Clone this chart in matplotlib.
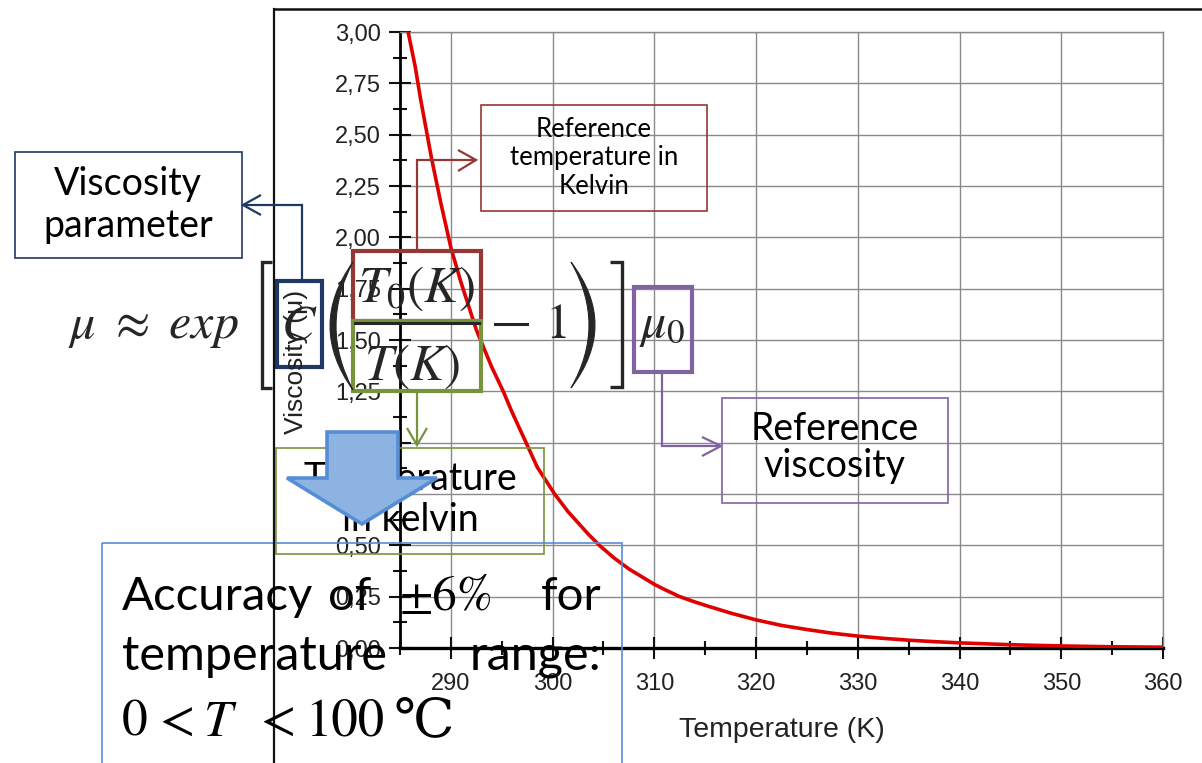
import matplotlib
matplotlib.use('Agg')
import matplotlib.pyplot as plt
from matplotlib.patches import Rectangle, Polygon, PathPatch
from matplotlib.path import Path
from matplotlib.ticker import MultipleLocator, FixedLocator

plt.rcParams['mathtext.fontset'] = 'stix'

# ---------------- data ----------------
temperature_K = [285.8, 286.5, 287.0, 288.1, 289.0, 290.0, 291.0, 292.5, 294.0,
                 295.15, 296.0, 297.3, 298.5, 300.2, 301.5, 302.5, 303.5, 304.6,
                 306.0, 307.5, 309.0, 310.0, 311.0, 312.5, 314.0, 315.0, 317.5,
                 320.0, 322.5, 325.0, 327.5, 330.0, 332.5, 335.0, 337.5, 340.0,
                 345.0, 350.0, 355.0, 360.0]
viscosity = [3.00, 2.83, 2.68, 2.385, 2.17, 1.95, 1.78, 1.55, 1.37,
             1.25, 1.15, 1.01, 0.88, 0.75, 0.665, 0.61, 0.555, 0.50,
             0.44, 0.385, 0.34, 0.31, 0.285, 0.25, 0.224, 0.208, 0.17,
             0.137, 0.11, 0.09, 0.072, 0.058, 0.047, 0.038, 0.031, 0.025,
             0.016, 0.010, 0.006, 0.004]

x_ticks = [290, 300, 310, 320, 330, 340, 350, 360]
x_tick_labels = ['290', '300', '310', '320', '330', '340', '350', '360']
y_ticks = [0.0, 0.25, 0.5, 0.75, 1.0, 1.25, 1.5, 1.75, 2.0, 2.25, 2.5, 2.75, 3.0]
y_tick_labels = ['0,00', '0,25', '0,50', '0,75', '1,00', '1,25', '1,50', '1,75',
                 '2,00', '2,25', '2,50', '2,75', '3,00']

W, H = 1202, 763
fig = plt.figure(figsize=(W / 100, H / 100), dpi=100)
fig.patch.set_facecolor('white')

# ---------------- chart ----------------
L, R, T, B = 400, 1163, 32, 648
ax = fig.add_axes([L / W, 1 - B / H, (R - L) / W, (B - T) / H])
ax.plot(temperature_K, viscosity, color='#e00000', lw=2.6, zorder=3,
        solid_capstyle='butt', solid_joinstyle='round')
ax.set_xlim(285, 360)
ax.set_ylim(0, 3.0)
ax.xaxis.set_major_locator(FixedLocator(x_ticks))
ax.set_xticklabels(x_tick_labels)
ax.xaxis.set_minor_locator(MultipleLocator(5))
ax.yaxis.set_major_locator(FixedLocator(y_ticks))
ax.set_yticklabels(y_tick_labels)
ax.yaxis.set_minor_locator(MultipleLocator(0.125))
ax.grid(True, which='major', color='#8a8a8a', lw=1.0)
ax.set_axisbelow(True)
for s in ['top', 'right']:
    ax.spines[s].set_color('#8a8a8a')
    ax.spines[s].set_linewidth(1.0)
ax.spines['left'].set_linewidth(2.0)
ax.spines['bottom'].set_linewidth(2.4)
ax.tick_params(which='major', direction='inout', length=16, width=1.5, colors='#111111',
               labelsize=17, labelcolor='#222222')
ax.tick_params(which='minor', direction='inout', length=9.5, width=1.5, colors='#111111')
ax.tick_params(axis='x', which='major', pad=10)
ax.tick_params(axis='y', which='major', pad=5.5)
for lab in ax.get_xticklabels() + ax.get_yticklabels():
    lab.set_fontfamily('Liberation Sans')

# ---------------- overlay (pixel coordinates) ----------------
ov = fig.add_axes([0, 0, 1, 1], zorder=10)
ov.set_xlim(0, W)
ov.set_ylim(H, 0)
ov.axis('off')
ov.patch.set_alpha(0)

ov.text(782, 737, 'Temperature (K)', ha='center', va='baseline', fontsize=20.5,
        family='Liberation Sans', color='#222222')
ov.text(296, 362, 'Viscosity (μ)', ha='center', va='center', rotation=90, fontsize=19,
        family='Liberation Sans', color='#222222')

# picture frame
ov.plot([274, 274], [9, H + 5], color='#111111', lw=1.6)
ov.plot([274, W + 5], [9, 9], color='#111111', lw=1.8)

NAVY = '#1f3864'
DRED = '#953735'
GREEN = '#77933c'
PURPLE = '#8064a2'
BLUE = '#558ed5'
BLUEFILL = '#8db3e2'
INK = '#262626'


def rect(x0, y0, x1, y1, color, lw):
    ov.add_patch(Rectangle((x0, y0), x1 - x0, y1 - y0, fill=False, ec=color, lw=lw))


def poly(pts, color, lw):
    xs, ys = zip(*pts)
    ov.plot(xs, ys, color=color, lw=lw, solid_joinstyle='miter', solid_capstyle='butt')


FONT = 'Lato'
BFS = 27

# Viscosity parameter
rect(15, 152, 242, 258, NAVY, 1.2)
ov.text(128, 195, 'Viscosity', ha='center', va='baseline', fontsize=BFS, family=FONT)
ov.text(128, 237, 'parameter', ha='center', va='baseline', fontsize=BFS, family=FONT)
rect(277, 281, 322, 367, NAVY, 3)
poly([(302, 281), (302, 205), (243, 205)], NAVY, 1.6)
poly([(261, 195), (243, 205), (261, 215)], NAVY, 1.6)

# Reference temperature
rect(481, 105, 707, 211, DRED, 1.2)
ov.text(594, 137, 'Reference', ha='center', va='baseline', fontsize=18.5, family=FONT)
ov.text(594, 165, 'temperature in', ha='center', va='baseline', fontsize=18.5, family=FONT)
ov.text(594, 194, 'Kelvin', ha='center', va='baseline', fontsize=18.5, family=FONT)
rect(353, 251, 481, 321, DRED, 3)
poly([(417, 251), (417, 160), (476, 160)], DRED, 1.6)
poly([(458, 150), (476, 160), (458, 171)], DRED, 1.6)

# Temperature in kelvin
rect(353, 321, 481, 391, GREEN, 3)
rect(276, 448, 544, 554, GREEN, 1.2)
poly([(417, 391), (417, 445)], GREEN, 1.6)
poly([(407, 428), (417, 445), (427, 428)], GREEN, 1.6)
ov.text(410, 490, 'Temperature', ha='center', va='baseline', fontsize=BFS, family=FONT)
ov.text(410, 531, 'in kelvin', ha='center', va='baseline', fontsize=BFS, family=FONT)

# Reference viscosity
rect(634, 287, 692, 372, PURPLE, 3)
rect(722, 398, 948, 503, PURPLE, 1.2)
poly([(662, 372), (662, 446), (721, 446)], PURPLE, 1.6)
poly([(702, 437), (721, 446), (702, 456)], PURPLE, 1.6)
ov.text(835, 440, 'Reference', ha='center', va='baseline', fontsize=BFS, family=FONT)
ov.text(835, 477, 'viscosity', ha='center', va='baseline', fontsize=BFS, family=FONT)

# formula
FS = 36
ov.text(68, 338, r'$\mu\ \approx\ exp$', ha='left', va='baseline', fontsize=FS, color=INK)
ov.text(299, 340, r'$C$', ha='center', va='baseline', fontsize=FS, color=INK)
ov.text(416, 302, r'$T_0(K)$', ha='center', va='baseline', fontsize=FS + 1, color=INK)
ov.text(412, 380, r'$T(K)$', ha='center', va='baseline', fontsize=FS + 1, color=INK)
ov.plot([355, 479], [323, 323], color=INK, lw=2.2)
ov.plot([495, 527], [324, 324], color=INK, lw=2.2)
ov.text(556, 338, r'$1$', ha='center', va='baseline', fontsize=FS, color=INK)
ov.text(639, 337, r'$\mu_0$', ha='left', va='baseline', fontsize=FS, color=INK)
# brackets
poly([(272, 262), (262, 262), (262, 388), (272, 388)], INK, 2.4)
poly([(610, 262), (622, 262), (622, 387), (610, 387)], INK, 2.4)


def paren(x_end, x_out, x_in, y0, y1):
    ym = (y0 + y1) / 2
    c_out = 2 * x_out - x_end
    c_in = 2 * x_in - x_end
    verts = [(x_end, y0), (c_out, ym), (x_end, y1), (c_in, ym), (x_end, y0), (x_end, y0)]
    codes = [Path.MOVETO, Path.CURVE3, Path.CURVE3, Path.CURVE3, Path.CURVE3, Path.CLOSEPOLY]
    ov.add_patch(PathPatch(Path(verts, codes), fc=INK, ec=INK, lw=0.8))


paren(353, 330, 336, 262, 390)
paren(571, 595, 589, 262, 388)

# big blue arrow
ov.add_patch(Polygon([(327, 432), (398, 432), (398, 478), (437, 478), (362, 524),
                      (287, 478), (327, 478)], closed=True, fc=BLUEFILL, ec=BLUE,
                     lw=2.6, joinstyle='miter', zorder=5))

# accuracy box
rect(102, 543, 622, H + 10, BLUE, 1.2)
AFS = 34
ov.text(122, 610, 'Accuracy', ha='left', va='baseline', fontsize=AFS, family=FONT)
ov.text(328, 610, 'of', ha='left', va='baseline', fontsize=AFS, family=FONT)
ov.text(400, 610, '±6%', ha='left', va='baseline', fontsize=AFS + 1, family='STIXGeneral')
ov.text(601, 610, 'for', ha='right', va='baseline', fontsize=AFS, family=FONT)
ov.text(122, 670, 'temperature', ha='left', va='baseline', fontsize=AFS + 1, family=FONT)
ov.text(601, 670, 'range:', ha='right', va='baseline', fontsize=AFS + 1, family=FONT)
ov.text(122, 736, '0', ha='left', va='baseline', fontsize=37, family='STIXGeneral')
ov.text(177, 736, '<', ha='center', va='baseline', fontsize=37, family='STIXGeneral')
ov.text(204, 736, 'T', ha='left', va='baseline', fontsize=37, family='STIXGeneral',
        style='italic')
ov.text(278, 736, '<', ha='center', va='baseline', fontsize=37, family='STIXGeneral')
ov.text(305, 736, '100', ha='left', va='baseline', fontsize=38, family='STIXGeneral')
ov.text(393, 736, '℃', ha='left', va='baseline', fontsize=39, family='DejaVu Serif')

fig.savefig('out.png', dpi=100, facecolor='white')
